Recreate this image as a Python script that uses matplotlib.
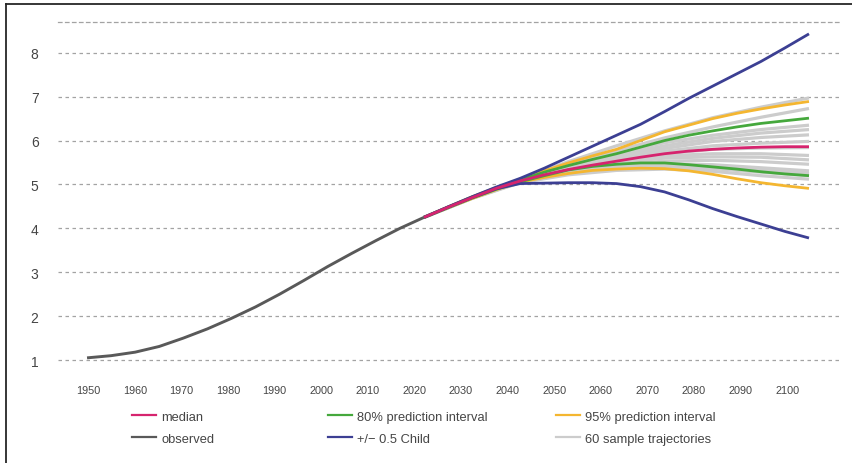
import matplotlib
matplotlib.use("Agg")
import matplotlib.pyplot as plt
from matplotlib.lines import Line2D

plt.rcParams['font.family'] = ['Liberation Sans', 'DejaVu Sans']

# ---- data -------------------------------------------------------------
obs_years = [1950, 1955, 1960, 1965, 1970, 1975, 1980, 1985, 1990, 1995,
             2000, 2005, 2010, 2015, 2020]
observed = [1.05, 1.10, 1.18, 1.31, 1.50, 1.71, 1.95, 2.21, 2.50, 2.81,
            3.13, 3.43, 3.72, 4.00, 4.25]

proj_years = [2020, 2025, 2030, 2035, 2040, 2045, 2050, 2055, 2060,
              2065, 2070, 2075, 2080, 2085, 2090, 2095, 2100]
median = [4.25, 4.48, 4.70, 4.91, 5.08, 5.22, 5.34, 5.44, 5.53,
          5.62, 5.70, 5.76, 5.80, 5.83, 5.85, 5.86, 5.86]
pi80_upper = [4.25, 4.48, 4.71, 4.92, 5.10, 5.28, 5.43, 5.57, 5.70,
              5.85, 6.00, 6.12, 6.22, 6.31, 6.39, 6.45, 6.51]
pi80_lower = [4.25, 4.47, 4.69, 4.89, 5.06, 5.20, 5.33, 5.41, 5.46,
              5.49, 5.49, 5.45, 5.40, 5.35, 5.29, 5.24, 5.20]
pi95_upper = [4.25, 4.49, 4.72, 4.93, 5.11, 5.31, 5.49, 5.65, 5.80,
              6.00, 6.20, 6.35, 6.50, 6.62, 6.72, 6.81, 6.89]
pi95_lower = [4.25, 4.47, 4.68, 4.88, 5.05, 5.16, 5.25, 5.32, 5.35,
              5.37, 5.36, 5.31, 5.23, 5.13, 5.04, 4.97, 4.91]
child_upper = [4.25, 4.49, 4.72, 4.94, 5.14, 5.37, 5.62, 5.87, 6.12,
               6.37, 6.66, 6.96, 7.24, 7.52, 7.80, 8.11, 8.43]
child_lower = [4.25, 4.48, 4.70, 4.90, 5.02, 5.03, 5.04, 5.04, 5.02,
               4.95, 4.83, 4.65, 4.45, 4.27, 4.10, 3.93, 3.78]

traj_years = [2020, 2030, 2040, 2050, 2060, 2070, 2080, 2090, 2100]
trajectories = [
    [4.25, 4.71, 5.12, 5.52, 5.88, 6.22, 6.52, 6.76, 6.97],
    [4.25, 4.71, 5.11, 5.46, 5.77, 6.06, 6.31, 6.53, 6.73],
    [4.25, 4.70, 5.10, 5.43, 5.71, 5.95, 6.12, 6.25, 6.35],
    [4.25, 4.70, 5.09, 5.41, 5.66, 5.88, 6.05, 6.17, 6.25],
    [4.25, 4.70, 5.09, 5.39, 5.63, 5.82, 5.98, 6.07, 6.13],
    [4.25, 4.70, 5.08, 5.37, 5.59, 5.76, 5.88, 5.94, 5.98],
    [4.25, 4.70, 5.08, 5.36, 5.56, 5.70, 5.80, 5.83, 5.84],
    [4.25, 4.70, 5.07, 5.34, 5.53, 5.65, 5.70, 5.70, 5.66],
    [4.25, 4.70, 5.07, 5.32, 5.49, 5.60, 5.63, 5.62, 5.56],
    [4.25, 4.69, 5.06, 5.30, 5.45, 5.53, 5.55, 5.52, 5.46],
    [4.25, 4.69, 5.06, 5.28, 5.41, 5.47, 5.45, 5.38, 5.31],
    [4.25, 4.69, 5.05, 5.26, 5.38, 5.43, 5.40, 5.33, 5.25],
    [4.25, 4.69, 5.05, 5.24, 5.35, 5.39, 5.36, 5.28, 5.20],
    [4.25, 4.68, 5.04, 5.22, 5.32, 5.35, 5.30, 5.20, 5.12],
]

y_ticks = [1, 2, 3, 4, 5, 6, 7, 8]
x_tick_years = list(range(1950, 2101, 10))

# ---- styling ----------------------------------------------------------
C_MEDIAN = '#d6246e'
C_OBS = '#595959'
C_80 = '#45a83c'
C_95 = '#f4b630'
C_CHILD = '#3c3f93'
C_TRAJ = '#cccccc'
C_GRID = '#a3a3a3'
C_TEXT = '#454545'

fig = plt.figure(figsize=(8.52, 4.64), dpi=100)
ax = fig.add_axes([0.0681, 0.184, 0.9178, 0.7664])

line_kw = dict(solid_joinstyle='round', solid_capstyle='butt')
for tr in trajectories:
    ax.plot(traj_years, tr, color=C_TRAJ, lw=2.3, zorder=2, **line_kw)

ax.plot(obs_years, observed, color=C_OBS, lw=2.1, zorder=3, **line_kw)
ax.plot(proj_years, pi95_upper, color=C_95, lw=2.0, zorder=4, **line_kw)
ax.plot(proj_years, pi95_lower, color=C_95, lw=2.0, zorder=4, **line_kw)
ax.plot(proj_years, pi80_upper, color=C_80, lw=2.0, zorder=5, **line_kw)
ax.plot(proj_years, pi80_lower, color=C_80, lw=2.0, zorder=5, **line_kw)
ax.plot(proj_years, child_upper, color=C_CHILD, lw=2.0, zorder=6, **line_kw)
ax.plot(proj_years, child_lower, color=C_CHILD, lw=2.0, zorder=6, **line_kw)
ax.plot(proj_years, median, color=C_MEDIAN, lw=2.0, zorder=7, **line_kw)

ax.set_xlim(1943.97, 2106.44)
ax.set_ylim(0.6, 8.70)

# horizontal dashed grid
ax.set_yticks(y_ticks)
ax.yaxis.grid(True, color=C_GRID, lw=0.9, linestyle=(0, (2.8, 2.8)))
ax.set_axisbelow(True)
for side in ['left', 'right', 'bottom']:
    ax.spines[side].set_visible(False)
ax.spines['top'].set_color(C_GRID)
ax.spines['top'].set_linewidth(0.9)
ax.spines['top'].set_linestyle((0, (2.8, 2.8)))
ax.tick_params(axis='y', length=0, pad=14, labelsize=10, labelcolor=C_TEXT)
ax.tick_params(axis='x', bottom=False, labelbottom=False)


# year labels run on their own slightly tighter scale
def to_label(x):
    px = 87 + (x - 1950) * 4.813
    return 2025 + (px - 437.6) / 4.66


def from_label(v):
    px = 437.6 + (v - 2025) * 4.66
    return 1950 + (px - 87) / 4.813


sec = ax.secondary_xaxis('bottom', functions=(to_label, from_label))
sec.set_xticks(x_tick_years)
sec.set_xticklabels([str(y) for y in x_tick_years])
sec.tick_params(length=0, pad=5.5, labelsize=7.8, labelcolor=C_TEXT)
sec.spines['bottom'].set_visible(False)

# legend, three columns
groups = [
    [(C_MEDIAN, 'median'), (C_OBS, 'observed')],
    [(C_80, '80% prediction interval'), (C_CHILD, '+/\u2212 0.5 Child')],
    [(C_95, '95% prediction interval'), (C_TRAJ, '60 sample trajectories')],
]
col_x = [132, 328, 556]
W, H = 852, 464
for gx, grp in zip(col_x, groups):
    handles = [Line2D([], [], color=c, lw=1.6) for c, _ in grp]
    labels = [t for _, t in grp]
    fig.legend(handles, labels, loc='upper left',
               bbox_to_anchor=(gx / W, 1 - 411.5 / H),
               bbox_transform=fig.transFigure,
               frameon=False, fontsize=9.3, handlelength=1.85,
               handletextpad=0.4, labelspacing=0.78, borderpad=0,
               borderaxespad=0, labelcolor=C_TEXT)

# frame edges along the left and top
fig.add_artist(Line2D([5.5 / W, 5.5 / W], [0, 1 - 5 / H], color='#262626',
                      lw=1.3, transform=fig.transFigure))
fig.add_artist(Line2D([5.5 / W, 1], [1 - 5 / H, 1 - 5 / H], color='#262626',
                      lw=1.3, transform=fig.transFigure))

fig.savefig('out.png', dpi=100)
